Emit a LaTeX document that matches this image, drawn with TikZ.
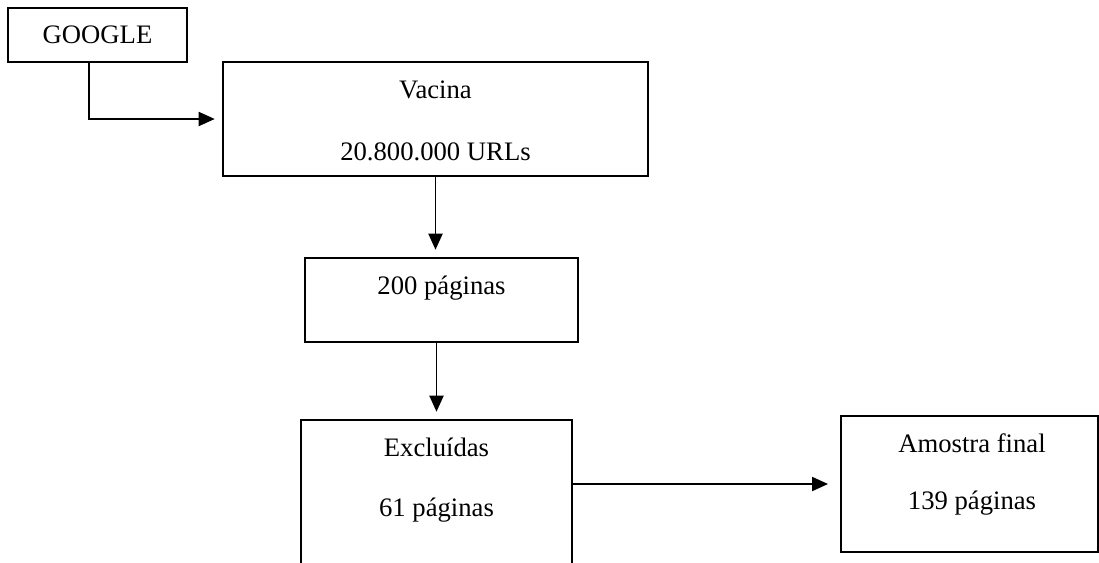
\documentclass[tikz,border=0pt]{standalone}
\usepackage{fontspec}
\setmainfont{Liberation Serif}
\usetikzlibrary{arrows.meta,positioning,calc}

\begin{document}
\begin{tikzpicture}[
    x=0.75pt,y=-0.75pt,
    >={Triangle[length=12pt,width=10.5pt]},
    every node/.style={font=\fontsize{20}{24}\selectfont},
    box/.style={rectangle,draw=black,line width=1.4pt,inner sep=0pt},
    arr/.style={->,line width=1.4pt,shorten >=5.5pt},
    lab/.style={inner sep=0pt}
  ]
  \useasboundingbox (0,0) rectangle (1099,562);
  \node[box,minimum width=134.25pt,minimum height=40.5pt] (google) at (97.5,35) {GOOGLE};
  \node[box,minimum width=318.75pt,minimum height=85.5pt] (vacina) at (435.5,119) {};
  \node[lab] (vacinaT) at (435.5,90) {Vacina};
  \node[lab] (vacinaN) at (435.5,152) {20.800.000 URLs};
  \node[box,minimum width=204.75pt,minimum height=63pt] (pag) at (441.5,300) {};
  \node[lab] (pagT) at (441.5,288) {200 páginas};
  \node[box,minimum width=203.25pt,minimum height=116.25pt] (excl) at (436.5,497.5) {};
  \node[lab] (exclT) at (436.5,447) {Excluídas};
  \node[lab] (exclN) at (436.5,510) {61 páginas};
  \node[box,minimum width=192.75pt,minimum height=102pt] (amostra) at (969.5,484) {};
  \node[lab] (amostraT) at (972,443) {Amostra final};
  \node[lab] (amostraN) at (972,503) {139 páginas};
  % connectors
  \draw[arr] ([xshift=-6.4pt]google.south) |- (vacina.west);
  \draw[arr] (vacina.south) -- (vacina.south |- pag.north);
  \draw[arr] (pag.south -| excl.north) -- (excl.north);
  \draw[arr,shorten >=9pt] (excl.east |- amostra.center) -- (amostra.west);
\end{tikzpicture}
\end{document}
